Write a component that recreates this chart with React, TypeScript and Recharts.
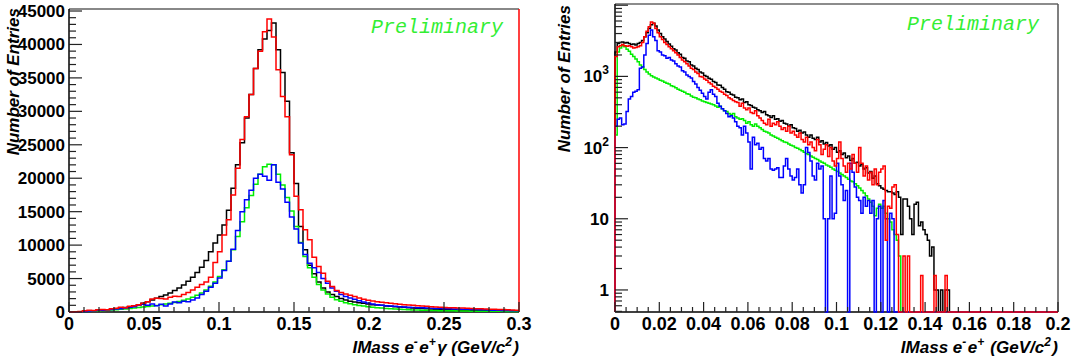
import React from 'react'
import { LineChart, Line, XAxis, YAxis } from 'recharts'

// left pad: IMass e-e+gamma, 100 bins of 0.003 GeV/c2
const L_BIN = 0.003
const L_BLACK = [
  0, 20, 50, 90, 150, 200, 250, 300, 350, 420,
  500, 580, 680, 800, 950, 1100, 1300, 1550, 1800, 2050,
  2300, 2550, 2850, 3200, 3600, 4050, 4600, 5200, 5900, 6700,
  7700, 9000, 10300, 11500, 13000, 15200, 18500, 22000, 25300, 29000,
  32500, 36400, 39200, 40800, 42100, 43200, 39200, 35800, 31500, 23800,
  19200, 12800, 9300, 7000, 5700, 4500, 3600, 3000, 2600, 2300,
  2000, 1800, 1600, 1500, 1400, 1300, 1200, 1100, 1050, 1000,
  900, 850, 800, 750, 700, 650, 600, 560, 520, 480,
  450, 420, 390, 360, 340, 320, 300, 280, 260, 240,
  220, 210, 200, 190, 180, 170, 160, 150, 140, 130,
]
const L_RED = [
  0, 20, 60, 180, 260, 220, 320, 380, 330, 480,
  560, 700, 650, 850, 950, 1100, 1300, 1550, 1950, 2050,
  2000, 1950, 2200, 2350, 2300, 2600, 2900, 3300, 3700, 4100,
  4500, 5200, 7400, 9000, 11500, 13800, 17500, 21500, 25800, 29200,
  32500, 36400, 39000, 41900, 43800, 41100, 36200, 32200, 29200, 23500,
  17300, 15300, 12300, 10800, 8200, 6800, 5800, 4600, 3800, 3200,
  2900, 2700, 2500, 2300, 2100, 1900, 1750, 1650, 1550, 1450,
  1400, 1300, 1250, 1150, 1100, 1050, 1000, 950, 900, 850,
  800, 760, 720, 680, 650, 620, 600, 580, 550, 520,
  500, 470, 440, 420, 400, 380, 360, 340, 300, 250,
]
const L_BLUE = [
  0, 10, 30, 80, 150, 200, 250, 280, 320, 380,
  450, 500, 600, 700, 800, 1050, 1150, 1000, 1200, 950,
  1150, 900, 1200, 1500, 1400, 1600, 1550, 1800, 2100, 2600,
  3100, 3700, 4300, 5100, 6200, 7600, 9400, 12200, 15000, 16800,
  18200, 20000, 20600, 20300, 19700, 22000, 19400, 18400, 16400, 14200,
  12400, 10300, 8600, 7300, 6600, 5900, 5000, 4300, 3600, 3100,
  2600, 2300, 2100, 1900, 1700, 1500, 1350, 1200, 1100, 1000,
  950, 900, 850, 800, 760, 720, 680, 650, 620, 600,
  570, 540, 520, 500, 480, 460, 440, 420, 400, 380,
  360, 340, 320, 300, 280, 260, 240, 220, 200, 180,
]
const L_GREEN = [
  0, 10, 30, 60, 100, 140, 180, 220, 260, 300,
  350, 400, 460, 520, 590, 660, 740, 820, 900, 990,
  1080, 1180, 1290, 1420, 1570, 1750, 1950, 2200, 2500, 2850,
  3300, 3850, 4500, 5300, 6300, 7600, 9300, 11300, 13500, 15600,
  17400, 19100, 20600, 21700, 22100, 22000, 20600, 19000, 17100, 15100,
  12800, 10400, 8300, 6600, 5200, 4100, 3300, 2700, 2200, 1850,
  1600, 1400, 1250, 1100, 980, 880, 790, 710, 640, 580,
  530, 480, 440, 400, 370, 340, 310, 290, 270, 250,
  230, 215, 200, 190, 180, 170, 160, 150, 140, 130,
  125, 120, 115, 110, 105, 100, 95, 90, 85, 80,
]

// right pad: IMass e-e+, 200 bins of 0.001 GeV/c2, log y
const R_BIN = 0.001
const R_BLACK = [
  2200, 2900, 3000, 3050, 2950, 3000, 2900, 2800, 2850, 2750,
  2900, 3000, 3200, 3600, 4100, 4700, 5300, 5600, 5100, 4500,
  4000, 3600, 3350, 3100, 2850, 2650, 2450, 2350, 2150, 2050,
  1850, 1800, 1650, 1600, 1450, 1400, 1300, 1250, 1150, 1120,
  1030, 1000, 940, 910, 850, 820, 760, 750, 700, 660,
  610, 600, 560, 550, 510, 500, 470, 480, 430, 440,
  400, 390, 370, 360, 340, 330, 310, 320, 290, 280,
  265, 280, 250, 255, 235, 240, 220, 215, 200, 210,
  190, 185, 170, 175, 160, 165, 150, 140, 150, 135,
  130, 140, 120, 125, 112, 118, 105, 110, 95, 100,
  86, 90, 80, 84, 72, 76, 66, 70, 60, 62,
  55, 58, 50, 52, 44, 46, 37, 40, 31, 29,
  27, 26, 25, 24, 24, 23, 22, 24, 20, 6,
  19, 19, 15, 10, 6, 16, 17, 8, 9, 7,
  6, 5, 3, 4, 1, 1, 0, 1, 0, 1,
  1, 0, 0, 0, 0, 0, 0, 0, 0, 0,
  0, 0, 0, 0, 0, 0, 0, 0, 0, 0,
  0, 0, 0, 0, 0, 0, 0, 0, 0, 0,
  0, 0, 0, 0, 0, 0, 0, 0, 0, 0,
  0, 0, 0, 0, 0, 0, 0, 0, 0, 0,
]
const R_RED = [
  1900, 2600, 2700, 2800, 2700, 2650, 2700, 2600, 2500, 2550,
  2600, 2700, 3000, 3600, 4300, 5000, 5800, 5600, 4700, 4100,
  3600, 3300, 3000, 2800, 2600, 2450, 2300, 2150, 2000, 1850,
  1700, 1600, 1500, 1400, 1300, 1250, 1150, 1100, 1000, 980,
  920, 880, 820, 780, 730, 700, 660, 620, 600, 560,
  540, 500, 480, 460, 440, 430, 380, 420, 360, 340,
  360, 310, 300, 330, 280, 260, 240, 220, 210, 250,
  200, 220, 210, 230, 200, 180, 190, 170, 200, 160,
  170, 150, 140, 160, 130, 120, 140, 110, 120, 100,
  90, 130, 110, 80, 95, 110, 75, 100, 65, 55,
  70, 120, 70, 55, 45, 60, 50, 80, 60, 45,
  100, 60, 40, 55, 35, 45, 30, 50, 30, 45,
  50, 55, 5, 15, 14, 28, 30, 6, 0, 0,
  3, 0, 3, 0, 0, 0, 0, 0, 1.6, 0,
  0, 0, 0, 0, 1.6, 0, 0, 0, 0, 1.6,
  0, 0, 0, 0, 0, 0, 0, 0, 0, 0,
  0, 0, 0, 0, 0, 0, 0, 0, 0, 0,
  0, 0, 0, 0, 0, 0, 0, 0, 0, 0,
  0, 0, 0, 0, 0, 0, 0, 0, 0, 0,
  0, 0, 0, 0, 0, 0, 0, 0, 0, 0,
]
const R_BLUE = [
  200, 250, 260, 210, 215, 320, 480, 520, 600, 620,
  650, 1300, 1350, 2000, 2900, 3800, 4500, 3600, 3200, 2300,
  2200, 2000, 1950, 1800, 1850, 1700, 1650, 1500, 1400, 1350,
  1200, 1150, 1050, 1000, 950, 850, 780, 700, 640, 580,
  520, 480, 600, 650, 560, 520, 420, 380, 350, 330,
  300, 270, 280, 260, 230, 200, 190, 150, 200, 160,
  120, 50, 140, 110, 115, 95, 100, 70, 65, 70,
  50, 48, 50, 52, 38, 38, 55, 70, 50, 40,
  35, 38, 50, 30, 23, 30, 100, 85, 65, 40,
  35, 60, 50, 55, 10, 0, 10, 40, 10, 12,
  60, 40, 30, 18, 25, 0, 60, 45, 28, 20,
  18, 12, 20, 15, 18, 12, 18, 0, 10, 15,
  0, 18, 10, 0, 12, 10, 0, 0, 0, 0,
  0, 0, 0, 0, 0, 0, 0, 0, 0, 0,
  0, 0, 0, 0, 0, 0, 0, 0, 0, 0,
  0, 0, 0, 0, 0, 0, 0, 0, 0, 0,
  0, 0, 0, 0, 0, 0, 0, 0, 0, 0,
  0, 0, 0, 0, 0, 0, 0, 0, 0, 0,
  0, 0, 0, 0, 0, 0, 0, 0, 0, 0,
  0, 0, 0, 0, 0, 0, 0, 0, 0, 0,
]
const R_GREEN = [
  150, 2200, 2500, 2700, 2600, 2400, 2250, 2050, 1900, 1750,
  1600, 1450, 1350, 1250, 1150, 1080, 1020, 980, 950, 920,
  880, 860, 830, 800, 780, 740, 720, 690, 660, 640,
  620, 600, 570, 560, 530, 510, 500, 480, 470, 450,
  440, 430, 420, 410, 400, 385, 370, 380, 350, 330,
  320, 300, 290, 300, 270, 260, 250, 255, 240, 220,
  230, 210, 200, 215, 200, 190, 180, 170, 165, 160,
  150, 145, 140, 135, 130, 125, 120, 118, 112, 108,
  105, 100, 98, 94, 90, 86, 82, 80, 76, 73,
  70, 68, 65, 62, 60, 57, 55, 53, 50, 48,
  46, 44, 42, 40, 38, 36, 34, 33, 31, 29,
  27, 25, 23, 21, 19, 17, 15, 11, 14, 16,
  14, 15, 12, 10, 9, 7, 6, 5, 3, 0,
  0, 0, 0, 0, 0, 0, 0, 0, 0, 0,
  0, 0, 0, 0, 0, 0, 0, 0, 0, 0,
  0, 0, 0, 0, 0, 0, 0, 0, 0, 0,
  0, 0, 0, 0, 0, 0, 0, 0, 0, 0,
  0, 0, 0, 0, 0, 0, 0, 0, 0, 0,
  0, 0, 0, 0, 0, 0, 0, 0, 0, 0,
  0, 0, 0, 0, 0, 0, 0, 0, 0, 0,
]

const L_Y_MAX = 45300
const R_Y_MIN = 0.49
const R_Y_MAX = 10400

const FONT = "'Liberation Sans', Arial, Helvetica, sans-serif"
const MONO = "'Liberation Mono', 'DejaVu Sans Mono', monospace"
const PRELIM = '#33ee33'

const COLORS = { black: '#000000', red: '#ff0000', blue: '#0000ff', green: '#00ee00' }

// pad frames (plot areas) in page pixels
const LEFT_FRAME = { x0: 69, x1: 519, y0: 9, y1: 312 }
const RIGHT_FRAME = { x0: 615, x1: 1058, y0: 4, y1: 312 }

// axis ticks (major + minor), labels only on majors
const L_X_TICKS: number[] = []
for (let i = 0; i <= 30; i++) L_X_TICKS.push(i / 100)
const L_Y_TICKS: number[] = []
for (let i = 0; i <= 45; i++) L_Y_TICKS.push(i * 1000)
const R_X_TICKS: number[] = []
for (let i = 0; i <= 40; i++) R_X_TICKS.push(i / 200)
const R_Y_TICKS: number[] = [0.5, 0.6, 0.7, 0.8, 0.9]
for (const dec of [1, 10, 100, 1000]) for (let d = 1; d <= 9; d++) R_Y_TICKS.push(d * dec)
R_Y_TICKS.push(10000)
const R_Y_LABELS: Record<number, [string, string]> = {
  1: ['1', ''],
  10: ['10', ''],
  100: ['10', '2'],
  1000: ['10', '3'],
}

// histogram outline: rises from the floor at x=0, flat top over each bin
function histPoints(values: number[], bin: number, floor: number) {
  const pts = [{ x: 0, y: floor }]
  values.forEach((v, i) => pts.push({ x: i * bin, y: Math.max(v, floor) }))
  pts.push({ x: values.length * bin, y: Math.max(values[values.length - 1], floor) })
  return pts
}

const isMultiple = (v: number, step: number) => Math.abs(v / step - Math.round(v / step)) < 1e-6
const fmt = (v: number) => String(Number(v.toFixed(3)))

function makeXTick(labelStep: number) {
  return function XTick(props: any) {
    const { x, y, payload } = props
    const major = isMultiple(payload.value, labelStep)
    return (
      <g>
        <line x1={x} y1={y} x2={x} y2={y - (major ? 10 : 5)} stroke="#222" strokeWidth={1.2} />
        {major && (
          <text x={x} y={y + 18} textAnchor="middle" fontFamily={FONT} fontWeight="bold" fontSize={18} fill="#000">
            {fmt(payload.value)}
          </text>
        )}
      </g>
    )
  }
}

function LinYTick(props: any) {
  const { x, y, payload } = props
  const major = isMultiple(payload.value, 5000)
  return (
    <g>
      <line x1={x} y1={y} x2={x + (major ? 13 : 7)} y2={y} stroke="#222" strokeWidth={1.2} />
      {major && (
        <text x={x - 4} y={y + 6} textAnchor="end" fontFamily={FONT} fontWeight="bold" fontSize={17} fill="#000">
          {payload.value}
        </text>
      )}
    </g>
  )
}

function LogYTick(props: any) {
  const { x, y, payload } = props
  const lab = R_Y_LABELS[payload.value]
  const major = lab !== undefined || payload.value === 10000
  return (
    <g>
      <line x1={x} y1={y} x2={x + (major ? 13 : 7)} y2={y} stroke="#222" strokeWidth={1.2} />
      {lab && (
        <text x={x - 6} y={y + 6} textAnchor="end" fontFamily={FONT} fontWeight="bold" fontSize={17} fill="#000">
          {lab[0]}
          {lab[1] && (
            <tspan dy={-8} fontSize={12}>
              {lab[1]}
            </tspan>
          )}
        </text>
      )}
    </g>
  )
}

const SERIES_ORDER: [keyof typeof COLORS, number[], number[]][] = [
  ['black', L_BLACK, R_BLACK],
  ['green', L_GREEN, R_GREEN],
  ['blue', L_BLUE, R_BLUE],
  ['red', L_RED, R_RED],
]

function LeftPad() {
  return (
    <LineChart width={540} height={360} margin={{ top: 9, right: 21, bottom: 8, left: 0 }}>
      <XAxis
        dataKey="x"
        type="number"
        domain={[0, 0.3]}
        ticks={L_X_TICKS}
        interval={0}
        tickSize={0}
        tickMargin={0}
        tickLine={false}
        tick={makeXTick(0.05)}
        height={40}
        axisLine={false}
      />
      <YAxis
        type="number"
        domain={[0, L_Y_MAX]}
        ticks={L_Y_TICKS}
        interval={0}
        tickSize={0}
        tickMargin={0}
        tickLine={false}
        tick={LinYTick}
        width={69}
        axisLine={false}
      />
      {SERIES_ORDER.map(([c, vals]) => (
        <Line
          key={c}
          data={histPoints(vals, L_BIN, 0)}
          dataKey="y"
          type="stepAfter"
          stroke={COLORS[c]}
          strokeWidth={1.5}
          dot={false}
          activeDot={false}
          isAnimationActive={false}
        />
      ))}
    </LineChart>
  )
}

function RightPad() {
  return (
    <LineChart width={540} height={360} margin={{ top: 4, right: 20, bottom: 8, left: 0 }}>
      <XAxis
        dataKey="x"
        type="number"
        domain={[0, 0.2]}
        ticks={R_X_TICKS}
        interval={0}
        tickSize={0}
        tickMargin={0}
        tickLine={false}
        tick={makeXTick(0.02)}
        height={40}
        axisLine={false}
      />
      <YAxis
        type="number"
        scale="log"
        domain={[R_Y_MIN, R_Y_MAX]}
        ticks={R_Y_TICKS}
        interval={0}
        tickSize={0}
        tickMargin={0}
        tickLine={false}
        tick={LogYTick}
        width={77}
        axisLine={false}
      />
      {SERIES_ORDER.map(([c, , vals]) => (
        <Line
          key={c}
          data={histPoints(vals, R_BIN, R_Y_MIN)}
          dataKey="y"
          type="stepAfter"
          stroke={COLORS[c]}
          strokeWidth={1.5}
          dot={false}
          activeDot={false}
          isAnimationActive={false}
        />
      ))}
    </LineChart>
  )
}

function Sup({ children }: { children: string }) {
  return (
    <>
      <tspan dy={-7} fontSize={12}>
        {children}
      </tspan>
      <tspan dy={7}>{'\u200A'}</tspan>
    </>
  )
}

// frames and titles sit under the charts so the histograms draw over the frame
function Backdrop() {
  const title = { fontFamily: FONT, fontWeight: 'bold' as const, fontStyle: 'italic' as const, fontSize: 17, fill: '#000' }
  const prelim = { fontFamily: MONO, fontStyle: 'italic' as const, fontSize: 20, fill: PRELIM }
  const L = LEFT_FRAME
  const R = RIGHT_FRAME
  return (
    <svg width={1078} height={360} style={{ position: 'absolute', left: 0, top: 0 }}>
      <line x1={L.x0} y1={L.y0} x2={L.x1} y2={L.y0} stroke="#888" strokeWidth={2} />
      <line x1={L.x1} y1={L.y0} x2={L.x1} y2={L.y1} stroke="#ff0000" strokeWidth={1.5} />
      <line x1={L.x0} y1={L.y0} x2={L.x0} y2={L.y1} stroke="#000" strokeWidth={1.5} />
      <line x1={L.x0} y1={L.y1} x2={L.x1} y2={L.y1} stroke="#000" strokeWidth={1.5} />
      <line x1={R.x0} y1={R.y0} x2={R.x1} y2={R.y0} stroke="#666" strokeWidth={1.5} />
      <line x1={R.x1} y1={R.y0} x2={R.x1} y2={R.y1} stroke="#555" strokeWidth={1.5} />
      <line x1={R.x0} y1={R.y0} x2={R.x0} y2={R.y1} stroke="#000" strokeWidth={1.5} />
      <line x1={R.x0} y1={R.y1} x2={R.x1} y2={R.y1} stroke="#000" strokeWidth={1.5} />
      <text {...title} x={19} y={8} textAnchor="end" transform="rotate(-90 19 8)">
        Number of Entries
      </text>
      <text {...title} x={570} y={5} textAnchor="end" transform="rotate(-90 570 5)">
        Number of Entries
      </text>
      <text {...title} x={519} y={353} textAnchor="end">
        IMass e<Sup>-</Sup>e<Sup>+</Sup>γ (GeV/c<Sup>2</Sup>)
      </text>
      <text {...title} x={1058} y={353} textAnchor="end">
        IMass e<Sup>-</Sup>e<Sup>+</Sup> (GeV/c<Sup>2</Sup>)
      </text>
      <text {...prelim} x={371} y={33}>
        Preliminary
      </text>
      <text {...prelim} x={907} y={30}>
        Preliminary
      </text>
    </svg>
  )
}

export default function App() {
  return (
    <div style={{ position: 'absolute', left: 0, top: 0, width: 1078, height: 360, background: '#fff' }}>
      <Backdrop />
      <div style={{ position: 'absolute', left: 0, top: 0 }}>
        <LeftPad />
      </div>
      <div style={{ position: 'absolute', left: 538, top: 0 }}>
        <RightPad />
      </div>
    </div>
  )
}
